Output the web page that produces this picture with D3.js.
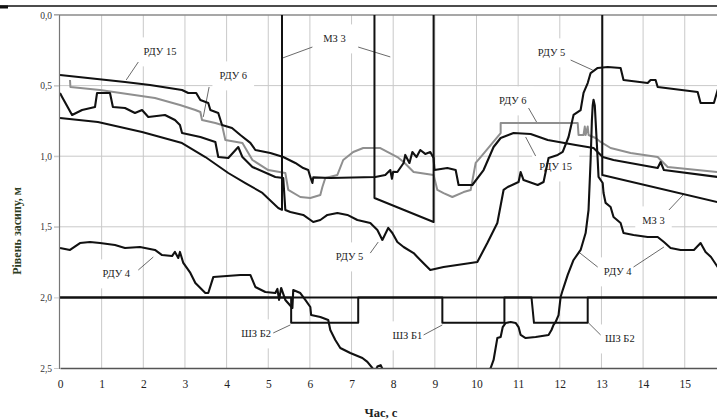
<!DOCTYPE html>
<html>
<head>
<meta charset="utf-8">
<script src="https://cdn.jsdelivr.net/npm/d3@7"></script>
<style>
body{margin:0;background:#fff;overflow:hidden}
text{font-family:"Liberation Serif","Times New Roman",serif}
</style>
</head>
<body>
<div id="container"></div>
<script>
const width = 717
const height = 419

// час, с  /  рівень засипу, м
const xTicks = [0,1,2,3,4,5,6,7,8,9,10,11,12,13,14,15]
const yTicks = [0,0.5,1,1.5,2,2.5]
const gridLevels = [0.5,1,1.5]

const rdu15 = [[0,0.425],[1.56,0.475],[2.16,0.496],[2.93,0.531],[3.08,0.552],[3.27,0.552],[3.37,0.602],
  [3.56,0.623],[3.61,0.673],[3.80,0.694],[3.89,0.779],[4.13,0.80],[4.33,0.85],[4.57,0.906],[4.69,0.956],
  [5.05,0.977],[5.36,1.006],[5.65,1.048],[5.84,1.084],[5.96,1.098],[6.01,1.147],[6.06,1.19],[6.08,1.15],
  [6.49,1.154],[7.57,1.147],[7.81,1.133],[7.93,1.098],[7.97,1.16],[8.0,1.11],[8.10,1.112],[8.25,1.048],
  [8.29,0.991],[8.39,1.048],[8.46,0.970],[8.56,1.006],[8.65,0.956],[8.77,0.984],[8.89,0.970],[8.97,1.013],
  [8.99,1.098],[9.30,1.084],[9.50,1.098],[9.57,1.204],[9.90,1.204],[10.17,1.098],[10.41,0.935],[10.58,0.871],
  [10.89,0.836],[11.30,0.843],[11.71,0.885],[12.38,0.921],[12.81,0.942],[13.03,1.006],[13.29,1.027],
  [14.35,1.084],[14.42,1.041],[14.50,1.098],[15.79,1.147],[16,1.155]]

const rdu6 = [[0.24,0.46],[0.25,0.51],[0.96,0.531],[2.28,0.588],[2.88,0.637],[3.25,0.673],[3.37,0.687],
  [3.41,0.744],[3.73,0.765],[3.89,0.779],[3.97,0.885],[4.38,0.906],[4.62,1.027],[5.0,1.098],[5.41,1.119],
  [5.48,1.239],[5.77,1.289],[6.01,1.296],[6.25,1.275],[6.30,1.218],[6.37,1.154],[6.66,1.133],[6.80,1.027],
  [7.04,0.970],[7.28,0.942],[7.69,0.942],[8.10,1.006],[8.25,1.041],[8.49,1.112],[8.97,1.133],[9.06,1.239],
  [9.21,1.261],[9.42,1.289],[9.69,1.254],[9.86,1.239],[9.98,1.048],[10.10,1.006],[10.34,0.921],[10.58,0.836],
  [10.58,0.765],[12.43,0.765],[12.45,0.85],[12.57,0.85],[12.6,0.79],[12.62,0.85],[12.67,0.79],[12.69,0.85],
  [12.86,0.871],[12.98,0.899],[13.22,0.942],[13.70,0.977],[14.35,1.006],[14.42,1.027],[14.59,1.076],
  [15.79,1.112],[16,1.118]]

const rdu5 = [[0,0.552],[0.05,0.58],[0.29,0.708],[0.53,0.673],[0.84,0.652],[0.89,0.552],[1.20,0.552],
  [1.27,0.652],[1.56,0.659],[1.80,0.694],[1.97,0.673],[2.12,0.722],[2.52,0.708],[2.76,0.744],[2.88,0.779],
  [2.93,0.836],[3.37,0.864],[3.73,0.899],[3.80,1.006],[4.04,1.013],[4.28,0.935],[4.38,1.006],[4.62,1.076],
  [5.17,1.147],[5.36,1.154],[5.41,1.381],[5.53,1.395],[5.84,1.416],[6.08,1.466],[6.25,1.452],[6.42,1.416],
  [6.66,1.402],[6.90,1.416],[7.14,1.452],[7.45,1.473],[7.62,1.523],[7.74,1.593],[7.88,1.508],[7.98,1.544],
  [8.10,1.608],[8.25,1.643],[8.49,1.686],[8.65,1.735],[8.89,1.806],[9.21,1.785],[9.86,1.756],[10.02,1.749],
  [10.26,1.615],[10.50,1.473],[10.65,1.239],[10.75,1.218],[11.01,1.183],[11.06,1.112],[11.13,1.169],
  [11.47,1.204],[11.61,1.183],[11.73,1.013],[11.95,0.991],[12.07,0.970],[12.21,0.864],[12.33,0.708],
  [12.50,0.673],[12.57,0.552],[12.67,0.482],[12.74,0.411],[12.91,0.375],[13.15,0.368],[13.46,0.375],
  [13.53,0.46],[14.11,0.482],[14.18,0.46],[14.30,0.46],[14.35,0.51],[15.31,0.545],[15.38,0.623],
  [15.70,0.623],[15.79,0.531],[16,0.53]]

const rdu4 = [[0,1.65],[0.24,1.664],[0.48,1.615],[0.72,1.608],[0.96,1.615],[1.32,1.629],[1.56,1.65],
  [1.92,1.643],[2.28,1.664],[2.45,1.70],[2.69,1.707],[2.76,1.678],[2.84,1.721],[2.88,1.678],[2.96,1.756],
  [3.13,1.827],[3.25,1.898],[3.49,1.969],[3.56,1.969],[3.68,1.856],[4.33,1.841],[4.57,1.841],[4.69,1.926],
  [4.93,1.962],[5.17,1.969],[5.22,1.94],[5.26,2.018],[5.31,1.933],[5.41,2.018],[5.58,2.075],[5.60,1.948],
  [5.77,1.969],[5.89,2.018],[6.01,2.068],[6.03,2.125],[6.25,2.139],[6.44,2.16],[6.49,2.231],[6.61,2.302],
  [6.73,2.358],[6.97,2.394],[7.26,2.429],[7.38,2.457],[7.5,2.5],[7.56,2.53],[7.62,2.49],[7.7,2.48],
  [7.78,2.53],[7.9,2.6],[10.2,2.6],[10.34,2.5],[10.41,2.443],[10.50,2.288],[10.58,2.28],[10.63,2.21],
  [10.70,2.181],[10.82,2.174],[10.94,2.181],[11.01,2.21],[11.06,2.266],[11.18,2.288],[11.42,2.28],
  [11.73,2.266],[11.80,2.231],[11.85,2.195],[11.90,2.174],[11.97,2.125],[12.02,1.997],[12.07,1.948],
  [12.19,1.841],[12.33,1.735],[12.50,1.664],[12.62,1.544],[12.69,1.381],[12.74,1.027],[12.77,0.75],
  [12.79,0.64],[12.81,0.6],[12.84,0.64],[12.86,0.75],[12.91,1.027],[12.93,1.147],[13.03,1.19],[13.05,1.261],
  [13.10,1.331],[13.22,1.36],[13.29,1.431],[13.46,1.473],[13.53,1.544],[13.77,1.558],[14.11,1.572],
  [14.35,1.572],[14.50,1.608],[14.66,1.65],[14.90,1.664],[15.22,1.664],[15.38,1.615],[15.50,1.678],
  [15.63,1.714],[15.79,1.785],[16,1.82]]

const mz3 = [[0,0.73],[0.91,0.758],[1.97,0.829],[2.93,0.907],[3.49,1.006],[4.04,1.119],[4.45,1.19],
  [4.86,1.26],[5.24,1.367],[5.33,1.38],[5.33,-0.2],[7.55,-0.2],[7.55,1.296],[8.97,1.466],[8.97,-0.2],
  [13.02,-0.2],[13.02,1.133],[16,1.34]]

const shzB2 = [[0,2],[5.55,2],[5.55,2.18],[7.16,2.18],[7.16,2],[11.32,2],[11.38,2.18],[12.67,2.18],[12.67,2],[16,2]]
const shzB1 = [[0,2],[9.18,2],[9.18,2.18],[10.67,2.18],[10.67,2],[16,2]]

const notes = [
  {text:"РДУ 15", at:[2.40,0.269], ptr:[[[1.88,0.333],[1.59,0.46]]]},
  {text:"РДУ 6", at:[4.16,0.439], ptr:[[[3.58,0.51],[3.44,0.722]]]},
  {text:"МЗ 3", at:[6.59,0.177], ptr:[[[6.06,0.227],[5.34,0.305]],[[7.16,0.227],[7.93,0.297]]]},
  {text:"РДУ 5", at:[6.95,1.721], ptr:[[[7.45,1.686],[7.64,1.608]]]},
  {text:"РДУ 5", at:[11.80,0.276], ptr:[[[12.26,0.319],[12.79,0.39]]]},
  {text:"РДУ 6", at:[10.87,0.616], ptr:[[[11.25,0.659],[11.47,0.772]]]},
  {text:"РДУ 15", at:[11.90,1.084], ptr:[[[11.42,0.999],[11.18,0.864]]]},
  {text:"МЗ 3", at:[14.25,1.466], ptr:[[[14.62,1.381],[14.98,1.268]]]},
  {text:"РДУ 4", at:[1.35,1.841], ptr:[[[1.88,1.806],[2.24,1.714]]]},
  {text:"РДУ 4", at:[13.39,1.827], ptr:[[[12.91,1.785],[12.45,1.678]],[[13.77,1.785],[14.50,1.643]]]},
  {text:"ШЗ Б2", at:[4.71,2.266], ptr:[[[5.12,2.252],[5.53,2.195]]]},
  {text:"ШЗ Б1", at:[8.34,2.28], ptr:[[[8.73,2.266],[9.18,2.195]]]},
  {text:"ШЗ Б2", at:[13.44,2.302], ptr:[[[12.69,2.181],[12.98,2.266]]]}
]

const svg = d3.select("#container")
  .append("svg")
  .attr("width",width)
  .attr("height",height)

const x = d3.scaleLinear().domain([0,16]).range([60,726.4])
const y = d3.scaleLinear().domain([0,2.5]).range([15,368])

// верхня лінія сторінки
svg.append("line").attr("x1",0).attr("x2",width).attr("y1",6).attr("y2",6)
  .attr("stroke","#111").attr("stroke-width",1.5)
svg.append("line").attr("x1",0).attr("x2",8).attr("y1",7).attr("y2",7)
  .attr("stroke","#111").attr("stroke-width",3)

svg.append("clipPath").attr("id","plot")
  .append("rect").attr("x",59).attr("y",15).attr("width",680).attr("height",353)

// сітка
svg.append("g").selectAll("line").data(xTicks.slice(1)).join("line")
  .attr("x1",d=>x(d)).attr("x2",d=>x(d)).attr("y1",y(0)).attr("y2",y(2.5))
  .attr("stroke","#c9c9c9").attr("stroke-width",1)
svg.append("g").selectAll("line").data(gridLevels).join("line")
  .attr("x1",54).attr("x2",width).attr("y1",d=>y(d)).attr("y2",d=>y(d))
  .attr("stroke","#c9c9c9").attr("stroke-width",1)
svg.append("line").attr("x1",54).attr("x2",width).attr("y1",y(0)).attr("y2",y(0))
  .attr("stroke","#8a8a8a").attr("stroke-width",1.5)

// підписи: фон
const noteG = svg.append("g")
const bgG = noteG.append("g")
const txtG = svg.append("g")

const line_generator = d3.line().x(d=>x(d[0])).y(d=>y(d[1]))

const series = [
  {data:rdu6, color:"#8f8f8f", w:2},
  {data:mz3, color:"#111", w:2},
  {data:shzB2, color:"#111", w:2},
  {data:shzB1, color:"#111", w:2},
  {data:rdu4, color:"#111", w:2.1},
  {data:rdu5, color:"#111", w:2.1},
  {data:rdu15, color:"#111", w:2.1}
]

const lines = svg.append("g").attr("clip-path","url(#plot)")
lines.selectAll("path").data(series).join("path")
  .attr("d",d=>line_generator(d.data))
  .attr("fill","none")
  .attr("stroke",d=>d.color)
  .attr("stroke-width",d=>d.w)
  .attr("stroke-linejoin","round")

const x_axis = d3.axisBottom(x).tickValues(xTicks).tickSize(0).tickPadding(12).tickFormat(d3.format("d"))
const y_axis = d3.axisLeft(y).tickValues(yTicks).tickSize(5).tickPadding(2)
  .tickFormat(d=>d.toFixed(1).replace(".",","))

const gx = svg.append("g").attr("transform",`translate(0,${y(2.5)})`).call(x_axis)
gx.select(".domain").attr("stroke","#555").attr("stroke-width",1.5)
gx.selectAll("text").attr("font-size",11.5).attr("fill","#222")

const gy = svg.append("g").attr("transform","translate(59,0)").call(y_axis)
gy.select(".domain").attr("stroke","#777").attr("stroke-width",1.2)
gy.selectAll(".tick line").attr("stroke","#c9c9c9")
gy.selectAll("text").attr("font-size",9.5).attr("fill","#333")

// підписи кривих
notes.forEach(n=>{
  n.ptr.forEach(p=>{
    txtG.append("line")
      .attr("x1",x(p[0][0])).attr("y1",y(p[0][1]))
      .attr("x2",x(p[1][0])).attr("y2",y(p[1][1]))
      .attr("stroke","#444").attr("stroke-width",0.8)
  })
  const t = txtG.append("text")
    .attr("x",x(n.at[0])).attr("y",y(n.at[1]))
    .attr("text-anchor","middle").attr("dominant-baseline","middle")
    .attr("font-size",10.5).attr("fill","#222")
    .text(n.text)
  const b = t.node().getBBox()
  bgG.append("rect")
    .attr("x",b.x-7).attr("y",b.y-9).attr("width",b.width+14).attr("height",b.height+18)
    .attr("fill","#fff")
})

svg.append("text")
  .attr("x",381).attr("y",417)
  .attr("text-anchor","middle")
  .attr("font-size",12.5).attr("font-weight","bold").attr("fill","#222")
  .text("Час, с")

svg.append("text")
  .attr("transform","translate(21,231) rotate(-90)")
  .attr("text-anchor","middle")
  .attr("font-size",12).attr("font-weight","bold").attr("fill","#2d3d1f")
  .text("Рівень засипу, м")
</script>
</body>
</html>
